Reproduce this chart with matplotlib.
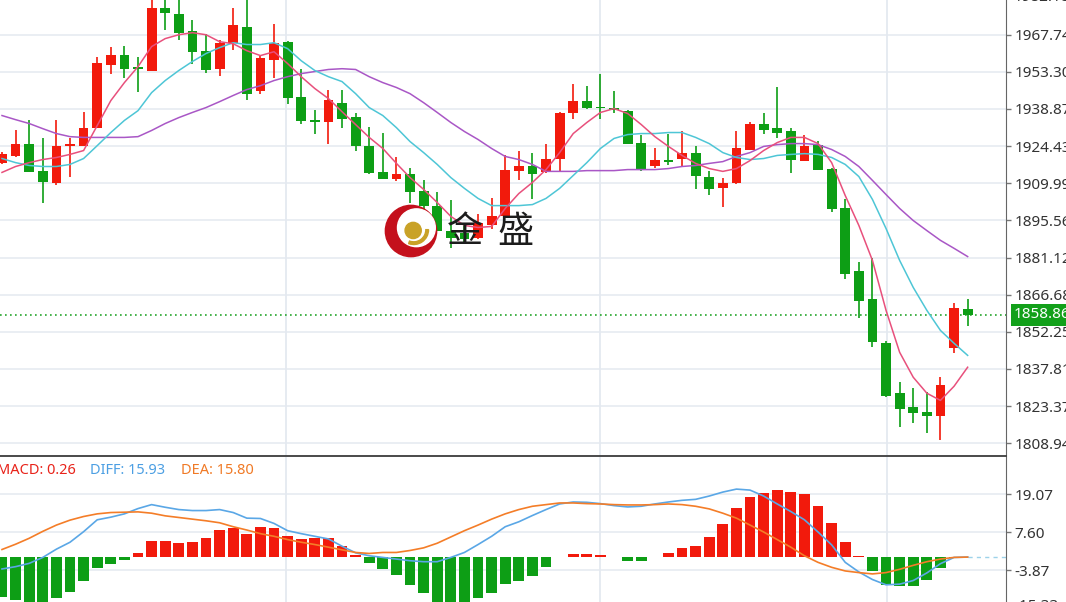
import matplotlib.pyplot as plt
from matplotlib.patches import Circle, Wedge

# K线数据
opens = [1918.0, 1920.4, 1925.4, 1914.9, 1909.9, 1924.6, 1924.6, 1931.6, 1956.1, 1960.0,
         1954.6, 1953.7, 1978.2, 1975.9, 1969.3, 1961.5, 1954.5, 1964.6, 1970.8, 1946.0,
         1958.0, 1965.0, 1943.7, 1934.2, 1933.6, 1941.3, 1935.9, 1924.6, 1914.2, 1911.8,
         1913.4, 1906.8, 1901.0, 1891.6, 1890.5, 1888.9, 1893.9, 1897.1, 1914.9, 1916.5,
         1914.2, 1919.6, 1937.1, 1942.1, 1939.5, 1939.4, 1938.2, 1925.8, 1916.5, 1919.2,
         1919.6, 1921.9, 1912.6, 1908.0, 1909.9, 1923.1, 1933.2, 1931.3, 1930.1, 1918.8,
         1925.0, 1915.7, 1900.2, 1875.7, 1864.9, 1847.8, 1828.4, 1822.9, 1821.0, 1819.4,
         1845.8, 1861.0]
highs = [1922.0, 1930.5, 1934.7, 1927.4, 1934.4, 1927.7, 1937.8, 1959.2, 1963.1, 1963.5,
         1959.2, 1982.1, 1982.0, 1981.5, 1973.6, 1968.1, 1965.8, 1978.2, 1981.7, 1959.6,
         1972.0, 1965.2, 1954.5, 1938.6, 1946.4, 1946.4, 1937.4, 1932.0, 1929.7, 1920.0,
         1916.1, 1911.1, 1906.4, 1903.3, 1893.6, 1898.2, 1904.1, 1920.8, 1922.7, 1921.9,
         1925.4, 1937.8, 1948.7, 1947.6, 1952.6, 1946.0, 1938.4, 1928.9, 1923.5, 1929.3,
         1930.1, 1924.3, 1914.9, 1912.2, 1930.1, 1933.6, 1937.1, 1947.2, 1931.3, 1928.9,
         1926.6, 1915.9, 1903.7, 1879.2, 1880.8, 1848.6, 1832.6, 1830.3, 1828.8, 1834.6,
         1863.3, 1865.2]
lows = [1917.3, 1920.0, 1914.5, 1902.5, 1909.5, 1912.6, 1924.4, 1931.4, 1952.6, 1951.0,
        1945.6, 1953.5, 1969.7, 1965.5, 1956.5, 1953.0, 1951.8, 1961.9, 1942.5, 1944.8,
        1951.0, 1940.9, 1933.2, 1929.3, 1925.4, 1931.3, 1922.7, 1913.6, 1911.6, 1910.7,
        1902.5, 1896.3, 1891.4, 1885.0, 1886.6, 1888.5, 1892.4, 1896.9, 1911.4, 1903.7,
        1914.0, 1914.5, 1935.1, 1939.0, 1935.1, 1937.1, 1925.2, 1914.9, 1916.1, 1916.9,
        1916.5, 1907.6, 1905.6, 1900.6, 1909.7, 1922.9, 1929.3, 1927.7, 1913.8, 1918.6,
        1915.1, 1899.0, 1872.6, 1857.5, 1846.2, 1827.0, 1815.2, 1816.7, 1812.9, 1810.1,
        1843.9, 1854.7]
closes = [1921.2, 1925.4, 1914.5, 1910.3, 1924.6, 1925.0, 1931.6, 1956.9, 1960.0, 1954.5,
          1954.4, 1978.2, 1976.3, 1968.5, 1961.1, 1954.1, 1964.6, 1971.6, 1944.8, 1958.8,
          1964.6, 1943.3, 1934.0, 1933.9, 1942.5, 1935.1, 1924.3, 1913.8, 1911.8, 1913.4,
          1906.4, 1901.0, 1891.6, 1888.9, 1888.5, 1894.4, 1897.1, 1915.3, 1916.5, 1913.4,
          1919.6, 1937.1, 1942.1, 1939.4, 1939.2, 1938.6, 1925.4, 1915.7, 1919.2, 1918.4,
          1921.9, 1913.0, 1907.6, 1909.9, 1923.5, 1933.2, 1930.5, 1929.7, 1919.2, 1924.6,
          1915.3, 1899.8, 1874.6, 1864.1, 1848.2, 1827.2, 1822.1, 1820.6, 1819.4, 1831.4,
          1861.4, 1858.86]

# 均线
ma5 = [1914.2, 1916.5, 1918.0, 1919.2, 1920.0, 1921.2, 1922.7, 1932.4, 1942.1, 1949.1,
       1955.3, 1963.1, 1966.2, 1967.7, 1968.5, 1967.7, 1965.0, 1964.2, 1961.5, 1959.6,
       1961.1, 1956.5, 1951.4, 1946.8, 1942.9, 1937.8, 1932.8, 1927.8, 1923.5, 1917.7,
       1912.2, 1907.6, 1902.5, 1897.1, 1893.6, 1892.8, 1893.2, 1900.2, 1906.0, 1910.3,
       1915.3, 1921.9, 1929.3, 1933.6, 1937.5, 1939.0, 1937.1, 1932.8, 1928.1, 1924.3,
       1920.8, 1917.7, 1915.7, 1914.6, 1915.7, 1918.8, 1922.7, 1925.8, 1927.8, 1927.8,
       1925.4, 1918.0, 1905.2, 1893.6, 1880.0, 1860.6, 1844.3, 1834.6, 1828.4, 1825.6,
       1831.1, 1838.5]
ma10 = [1919.6, 1918.0, 1916.9, 1916.5, 1916.5, 1917.3, 1919.6, 1924.6, 1929.7, 1934.4,
        1938.2, 1945.2, 1949.9, 1953.8, 1957.3, 1960.4, 1962.7, 1964.6, 1963.9, 1963.9,
        1964.6, 1962.3, 1957.6, 1953.8, 1951.4, 1949.5, 1944.8, 1939.4, 1936.3, 1931.6,
        1926.2, 1921.9, 1917.3, 1912.2, 1908.0, 1904.1, 1901.3, 1901.3, 1901.3, 1901.7,
        1904.1, 1908.0, 1913.0, 1918.0, 1923.5, 1927.4, 1928.9, 1929.3, 1929.3, 1929.7,
        1929.7, 1927.8, 1925.4, 1921.9, 1920.0, 1919.2, 1919.6, 1920.8, 1921.2, 1921.5,
        1921.2, 1920.0, 1917.3, 1912.6, 1903.7, 1892.4, 1880.0, 1869.5, 1860.6, 1852.8,
        1847.8, 1843.1]
ma20 = [1936.3, 1934.7, 1933.2, 1931.2, 1929.3, 1928.1, 1927.8, 1927.8, 1927.8, 1927.8,
        1928.1, 1930.5, 1933.2, 1935.5, 1937.5, 1939.4, 1941.7, 1944.1, 1946.4, 1947.9,
        1949.9, 1951.4, 1952.6, 1953.4, 1954.2, 1954.5, 1954.2, 1951.4, 1949.1, 1947.2,
        1944.8, 1941.3, 1937.5, 1933.6, 1930.1, 1927.0, 1923.5, 1920.4, 1919.2, 1917.3,
        1914.6, 1914.6, 1914.6, 1914.9, 1914.9, 1914.9, 1915.3, 1915.3, 1915.3, 1915.7,
        1916.5, 1916.9, 1917.7, 1918.4, 1920.4, 1921.9, 1924.3, 1925.0, 1925.4, 1925.4,
        1925.0, 1923.1, 1920.4, 1916.5, 1911.1, 1905.6, 1900.2, 1895.5, 1891.6, 1887.8,
        1884.7, 1881.5]

# MACD
macd_hist = [-11.9, -12.9, -15.5, -15.0, -12.2, -10.5, -7.2, -3.3, -2.1, -0.8,
             1.3, 5.1, 5.1, 4.5, 4.7, 5.8, 8.2, 8.8, 7.2, 9.3,
             9.0, 6.4, 5.7, 5.9, 5.9, 3.5, 0.6, -1.8, -3.4, -5.4,
             -8.3, -10.9, -13.4, -14.2, -13.7, -12.4, -10.9, -8.1, -7.0, -5.7,
             -2.8, 0.2, 1.0, 1.0, 0.8, 0.2, -1.1, -1.1, 0.1, 1.3,
             2.8, 3.6, 6.2, 10.2, 15.0, 18.3, 19.6, 20.4, 19.8, 19.2,
             15.7, 10.5, 4.8, 0.4, -4.1, -8.3, -8.8, -8.6, -6.8, -3.3,
             -0.2, 0.26]
diff = [-3.5, -2.8, -1.8, 0.0, 2.5, 4.6, 7.8, 11.4, 12.2, 13.2,
        14.8, 16.0, 15.2, 14.5, 14.2, 14.2, 14.5, 13.6, 11.9, 11.8,
        10.3, 8.1, 7.2, 6.4, 5.6, 3.4, 1.4, 0.5, 0.0, -0.5,
        -1.0, -1.3, -1.3, 0.0, 1.5, 3.9, 6.4, 9.3, 10.8, 12.7,
        14.5, 16.2, 16.8, 16.7, 16.3, 15.7, 15.3, 15.5, 16.2, 16.8,
        17.3, 17.6, 18.6, 19.8, 20.7, 20.4, 18.6, 16.2, 13.9, 11.4,
        7.7, 3.8, -1.5, -4.4, -6.7, -8.3, -8.1, -7.0, -4.7, -1.9,
        0.0, 0.1]
dea = [2.4, 4.0, 5.8, 7.9, 9.8, 11.3, 12.4, 13.2, 13.6, 13.7,
       13.8, 13.4, 12.6, 12.1, 11.6, 11.1, 10.5, 9.3, 8.3, 7.2,
       6.4, 5.4, 4.6, 3.9, 3.1, 2.3, 1.5, 1.2, 1.5, 1.5,
       2.1, 2.9, 4.3, 6.2, 8.1, 9.8, 11.6, 13.2, 14.5, 15.5,
       16.0, 16.5, 16.5, 16.3, 16.2, 16.0, 15.9, 15.9, 16.0, 16.2,
       16.0, 15.5, 14.7, 13.4, 11.9, 9.8, 7.7, 5.4, 3.1, 0.5,
       -1.5, -3.0, -4.1, -4.6, -5.0, -4.6, -3.6, -2.4, -1.3, -0.5,
       0.0, 0.1]

price_ticks = [1808.94, 1823.37, 1837.81, 1852.25, 1866.68, 1881.12,
               1895.56, 1909.99, 1924.43, 1938.87, 1953.30, 1967.74]
price_labels = ['1808.94', '1823.37', '1837.81', '1852.25', '1866.68', '1881.12',
                '1895.56', '1909.99', '1924.43', '1938.87', '1953.30', '1967.74']
macd_ticks = [19.07, 7.60, -3.87]
macd_labels = ['19.07', '7.60', '-3.87']
last_price = 1858.86

RED = '#f21a0c'
GREEN = '#0d9e15'
GRID = '#e4e9f0'
FS = 11

plt.rcParams['font.family'] = ['Noto Sans', 'Noto Sans CJK SC', 'DejaVu Sans']

W, H = 1066, 602
fig = plt.figure(figsize=(W / 100, H / 100), dpi=100)


def px_box(l, t, w, h):
    return [l / W, 1 - (t + h) / H, w / W, h / H]


ax = fig.add_axes(px_box(0, 0, 1006, 456))
ax2 = fig.add_axes(px_box(0, 457, 1006, 145))

x = list(range(len(closes)))
xlim = (-0.147, 73.82)
vgrid = [20.88, 43.97, 65.07]

# ---- K线主图 ----
cols = [RED if c >= o else GREEN for o, c in zip(opens, closes)]
bottoms = [min(o, c) for o, c in zip(opens, closes)]
heights = [max(abs(c - o), 0.6) for o, c in zip(opens, closes)]
ax.vlines(x, lows, highs, colors=cols, lw=1.2, zorder=3)
ax.bar(x, heights, bottom=bottoms, width=0.72, color=cols, linewidth=0, zorder=4)

ax.plot(x, ma20, color='#a957c6', lw=1.1, zorder=5)
ax.plot(x, ma10, color='#4ec6d6', lw=1.1, zorder=5)
ax.plot(x, ma5, color='#e8507c', lw=1.1, zorder=5)

ax.axhline(last_price, color='#25a52d', lw=1.2, ls=(0, (1, 2)), zorder=2)

ax.set_xlim(*xlim)
ax.set_ylim(1804.0, 1981.2)
ax.set_xticks([])
ax.set_yticks(price_ticks)
ax.set_yticklabels(price_labels)
ax.yaxis.tick_right()
ax.grid(axis='y', color=GRID, lw=1.1, zorder=0)
for v in vgrid:
    ax.axvline(v, color=GRID, lw=1.3, zorder=0)

# 右侧价格标签
ax.text(1.0 + 8 / 1006, last_price, '1858.86', transform=ax.get_yaxis_transform(),
        ha='left', va='center', color='white', fontsize=FS, zorder=10, clip_on=False,
        bbox=dict(boxstyle='square,pad=0.22', fc='#12a01a', ec='none'))
ax.text(1.0 + 8 / 1006, 1982.18, '1982.18', transform=ax.get_yaxis_transform(),
        ha='left', va='center', color='#333333', fontsize=FS, clip_on=False)

# ---- MACD副图 ----
hcols = [RED if v >= 0 else GREEN for v in macd_hist]
ax2.bar(x, macd_hist, width=0.8, color=hcols, linewidth=0, zorder=3)
ax2.plot(x, diff, color='#5aa7e6', lw=1.2, zorder=4)
ax2.plot(x, dea, color='#f47d28', lw=1.2, zorder=4)
ax2.hlines(0, x[-1], xlim[1], colors='#9dd2ea', linestyles=(0, (3, 3)), lw=1, zorder=2)

ax2.set_xlim(*xlim)
ax2.set_ylim(-13.51, 30.43)
ax2.set_xticks([])
ax2.set_yticks(macd_ticks)
ax2.set_yticklabels(macd_labels)
ax2.yaxis.tick_right()
ax2.grid(axis='y', color=GRID, lw=1.1, zorder=0)
for v in vgrid:
    ax2.axvline(v, color=GRID, lw=1.3, zorder=0)
ax2.text(1.0 + 8 / 1006, -15.0, '-15.33', transform=ax2.get_yaxis_transform(),
         ha='left', va='center', color='#333333', fontsize=FS, clip_on=False)

for a in (ax, ax2):
    a.set_facecolor('white')
    a.spines['left'].set_visible(False)
    a.spines['top'].set_visible(False)
    a.spines['right'].set_color('#666666')
    a.tick_params(axis='y', length=3.6, width=1, color='#777777', pad=2.5,
                  labelsize=FS, labelcolor='#333333')
ax.spines['bottom'].set_color('#3c3c3c')
ax.spines['bottom'].set_linewidth(1.3)
ax2.spines['bottom'].set_visible(False)

# MACD 标题
fig.text(-3 / W, 1 - 470 / H, 'MACD: 0.26', color='#e8231a', fontsize=10.5, va='center')
fig.text(90 / W, 1 - 470 / H, 'DIFF: 15.93', color='#4c9fe3', fontsize=10.5, va='center')
fig.text(181 / W, 1 - 470 / H, 'DEA: 15.80', color='#f07a26', fontsize=10.5, va='center')

# 水印 logo
lax = fig.add_axes(px_box(383, 204, 56, 54))
lax.set_xlim(-1, 1)
lax.set_ylim(-1, 1)
lax.set_aspect('equal')
lax.axis('off')
lax.add_patch(Circle((0, 0), 0.95, color='#c4101c'))
lax.add_patch(Circle((0.2, 0.12), 0.7, color='white'))
lax.add_patch(Circle((0.08, 0.02), 0.3, color='#c9a227'))
lax.add_patch(Wedge((0.1, 0.05), 0.55, 250, 360, width=0.1, color='#c9a227'))

fig.text(465 / W, 1 - 232 / H, '金', fontsize=26, ha='center', va='center',
         color='#1c1c1c', family=['Noto Sans CJK SC', 'DejaVu Sans'])
fig.text(515 / W, 1 - 232 / H, '盛', fontsize=26, ha='center', va='center',
         color='#1c1c1c', family=['Noto Sans CJK SC', 'DejaVu Sans'])

fig.savefig('out.png', dpi=100)
